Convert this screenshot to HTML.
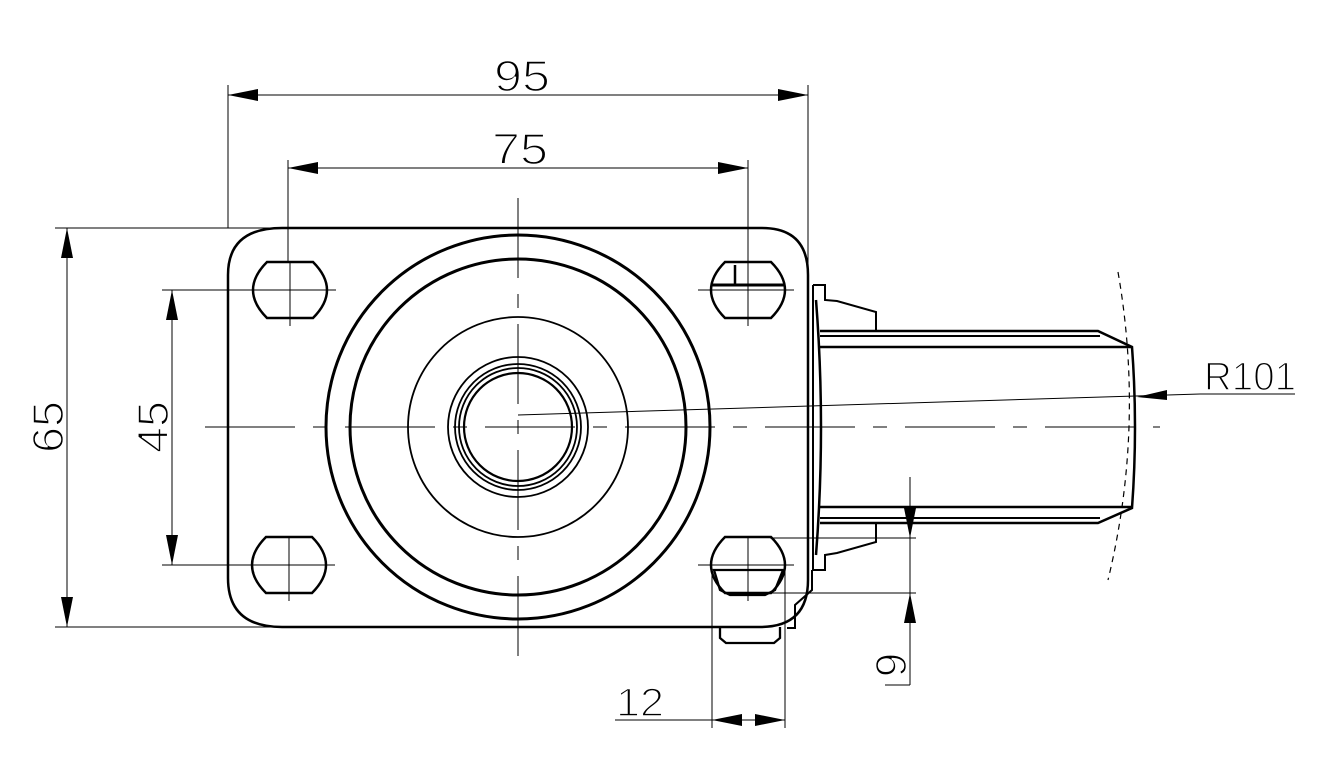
<!DOCTYPE html>
<html><head><meta charset="utf-8"><style>html,body{margin:0;padding:0;background:#fff}svg{display:block}</style></head>
<body>
<svg width="1323" height="784" viewBox="0 0 1323 784" xmlns="http://www.w3.org/2000/svg" font-family="Liberation Sans, sans-serif">
<defs>
<g id="slot"><path d="M-23,-28 L23,-28 Q37,-14 37,0 Q37,14 23,28 L-23,28 Q-37,14 -37,0 Q-37,-14 -23,-28 Z" fill="none" stroke="#000" stroke-width="2.5"/>
<line x1="-50" y1="0" x2="46" y2="0" stroke="#000" stroke-width="1"/><line x1="0" y1="-28" x2="0" y2="36" stroke="#000" stroke-width="1"/></g>
</defs>
<g fill="none" stroke="#000">
<path d="M282,228 L762,228 Q808,228 808,275 L808,580 Q808,627 760,627 L282,627 Q228,627 228,578 L228,275 Q228,228 282,228 Z" stroke-width="2.5"/>
<circle cx="518" cy="427" r="192" stroke-width="3"/>
<circle cx="518" cy="427" r="168" stroke-width="3"/>
<circle cx="518" cy="427" r="110" stroke-width="1.8"/>
<circle cx="518" cy="427" r="70" stroke-width="1.8"/>
<circle cx="518" cy="427" r="63" stroke-width="1.8"/>
<circle cx="518" cy="427" r="59" stroke-width="1.8"/>
<circle cx="518" cy="427" r="54" stroke-width="2.2"/>
<line x1="205" y1="427" x2="1160" y2="427" stroke-width="1" stroke-dasharray="90,18,14,18"/>
<line x1="518" y1="198" x2="518" y2="658" stroke-width="1" stroke-dasharray="80,16,14,16"/>
<path d="M820,331 L1098,331 L1132,347 Q1138,427 1132,508 L1098,523 L820,523" stroke-width="2.5"/>
<line x1="820" y1="336" x2="1100" y2="336" stroke-width="2"/>
<line x1="820" y1="347" x2="1132" y2="347" stroke-width="2.5"/>
<line x1="820" y1="507" x2="1132" y2="507" stroke-width="2.5"/>
<line x1="820" y1="518" x2="1100" y2="518" stroke-width="2"/>
<path d="M813,285 L813,570" stroke-width="2"/>
<path d="M816,300 Q826,427 816,555" stroke-width="2.5"/>
<path d="M813,285 L825,285 L825,300 L837,301 L876,312 L876,330" stroke-width="2"/>
<path d="M813,570 L825,570 L825,555 L837,553 L876,542 L876,523" stroke-width="2"/>
<path d="M812,570 L812,590 L795,605 L795,628 L787,628" stroke-width="2"/>
<path d="M1118,272 Q1145,427 1108,580" stroke-width="1.2" stroke-dasharray="6,5"/>
<path d="M714,570 L783,570 L775,590 L765,595 L730,595 L720,590 Z" stroke-width="2.3"/>
<path d="M720,627 L720,638 L726,643 L774,643 L780,638 L780,627" stroke-width="2.3"/>
<line x1="735" y1="265" x2="735" y2="285" stroke-width="2.5"/>
<line x1="712" y1="285" x2="785" y2="285" stroke-width="3"/>
</g>
<use href="#slot" x="290" y="290"/>
<use href="#slot" x="748" y="290"/>
<use href="#slot" x="289" y="565"/>
<use href="#slot" x="748" y="565"/>
<g stroke="#000" stroke-width="1" fill="none">
<line x1="228" y1="85" x2="228" y2="228"/><line x1="808" y1="85" x2="808" y2="285"/>
<line x1="228" y1="95" x2="808" y2="95"/>
<line x1="288" y1="160" x2="288" y2="262"/><line x1="748" y1="160" x2="748" y2="262"/>
<line x1="288" y1="168" x2="748" y2="168"/>
<line x1="55" y1="228" x2="282" y2="228"/><line x1="55" y1="627" x2="282" y2="627"/>
<line x1="67" y1="228" x2="67" y2="627"/>
<line x1="162" y1="290" x2="240" y2="290"/><line x1="162" y1="565" x2="240" y2="565"/>
<line x1="172" y1="290" x2="172" y2="565"/>
<line x1="518" y1="415" x2="1200" y2="394"/><line x1="1200" y1="394" x2="1295" y2="394"/>
<line x1="910" y1="477" x2="910" y2="685"/><line x1="885" y1="685" x2="910" y2="685"/>
<line x1="770" y1="538" x2="916" y2="538"/><line x1="770" y1="593" x2="916" y2="593"/>
<line x1="712" y1="570" x2="712" y2="728"/><line x1="785" y1="570" x2="785" y2="728"/>
<line x1="615" y1="720" x2="785" y2="720"/>
</g>
<g fill="#000">
<path d="M228,95 L258,89 L258,101 Z"/><path d="M808,95 L778,89 L778,101 Z"/>
<path d="M288,168 L318,162 L318,174 Z"/><path d="M748,168 L718,162 L718,174 Z"/>
<path d="M67,228 L61,258 L73,258 Z"/><path d="M67,627 L61,597 L73,597 Z"/>
<path d="M172,290 L166,320 L178,320 Z"/><path d="M172,565 L166,535 L178,535 Z"/>
<path d="M1137,397 L1167,390 L1167,400 Z"/>
<path d="M910,538 L904,508 L916,508 Z"/><path d="M910,593 L904,623 L916,623 Z"/>
<path d="M712,720 L742,714 L742,726 Z"/><path d="M785,720 L755,714 L755,726 Z"/>
</g>
<g fill="#000" stroke="#fff" stroke-width="1.6" font-size="44">
<text x="522" y="91" text-anchor="middle" textLength="56" lengthAdjust="spacingAndGlyphs">95</text>
<text x="520" y="164" text-anchor="middle" textLength="56" lengthAdjust="spacingAndGlyphs">75</text>
<text x="1250" y="390" text-anchor="middle" font-size="40" textLength="92" lengthAdjust="spacingAndGlyphs">R101</text>
<text x="640" y="716" text-anchor="middle" font-size="40" textLength="48" lengthAdjust="spacingAndGlyphs">12</text>
<text transform="translate(63,427) rotate(-90)" text-anchor="middle" textLength="52" lengthAdjust="spacingAndGlyphs">65</text>
<text transform="translate(168,427) rotate(-90)" text-anchor="middle" textLength="52" lengthAdjust="spacingAndGlyphs">45</text>
<text transform="translate(906,665) rotate(-90)" text-anchor="middle">9</text>
</g>
</svg>
</body></html>
